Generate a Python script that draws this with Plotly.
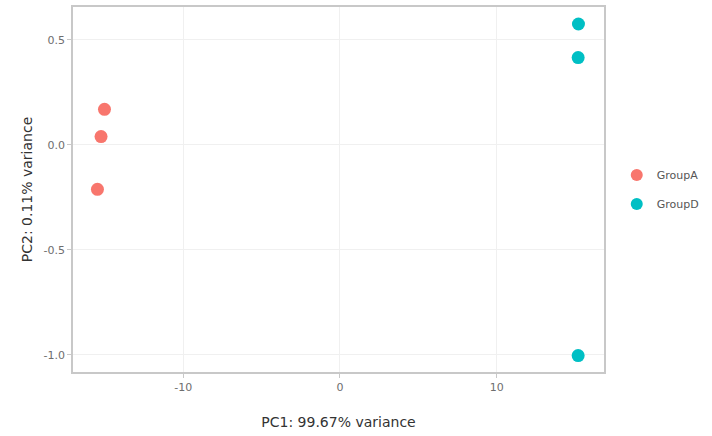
import plotly.graph_objects as go

# PCA scores per sample
groups = ["GroupA", "GroupD"]
pc1_a = [-15.03, -15.25, -15.48]
pc2_a = [0.170, 0.040, -0.211]
pc1_d = [15.22, 15.20, 15.20]
pc2_d = [0.576, 0.416, -1.003]
colors = {"GroupA": "#F8766D", "GroupD": "#00BFC4"}

x_ticks = [-10, 0, 10]
x_tick_text = ["-10", "0", "10"]
y_ticks = [-1.0, -0.5, 0.0, 0.5]
y_tick_text = ["-1.0", "-0.5", "0.0", "0.5"]

fig = go.Figure()
for name, xs, ys in [("GroupA", pc1_a, pc2_a), ("GroupD", pc1_d, pc2_d)]:
    fig.add_trace(go.Scatter(
        x=xs, y=ys, mode="markers", name=name, legendgroup=name,
        marker=dict(color=colors[name], size=13, line=dict(width=0)),
    ))

font_family = "DejaVu Sans, Verdana, sans-serif"
axis_common = dict(
    showline=True, linecolor="#c8c8c8", linewidth=1.5, mirror=True,
    ticks="outside", ticklen=4, tickcolor="#c8c8c8", tickwidth=1,
    showgrid=True, gridcolor="#f0f0f0", gridwidth=1,
    zeroline=False,
    tickfont=dict(size=11, color="#6e6e6e", family=font_family),
)

fig.update_layout(
    width=712, height=436,
    margin=dict(l=73, r=108, t=7, b=64, autoexpand=False),
    paper_bgcolor="white", plot_bgcolor="white",
    font=dict(family=font_family, color="#444444"),
    xaxis=dict(range=[-17.04, 16.85], tickvals=x_ticks, ticktext=x_tick_text,
               title=dict(text="PC1: 99.67% variance",
                          font=dict(size=14, color="#333333", family=font_family),
                          standoff=24),
               **axis_common),
    yaxis=dict(range=[-1.081, 0.657], tickvals=y_ticks, ticktext=y_tick_text,
               title=dict(text="PC2: 0.11% variance",
                          font=dict(size=14, color="#333333", family=font_family),
                          standoff=8),
               **axis_common),
    legend=dict(x=1.024, y=0.5, xanchor="left", yanchor="middle",
                font=dict(size=11, color="#555555", family=font_family),
                itemsizing="constant", tracegroupgap=10,
                bgcolor="rgba(0,0,0,0)"),
    showlegend=True,
)

fig.write_html("out.html")
